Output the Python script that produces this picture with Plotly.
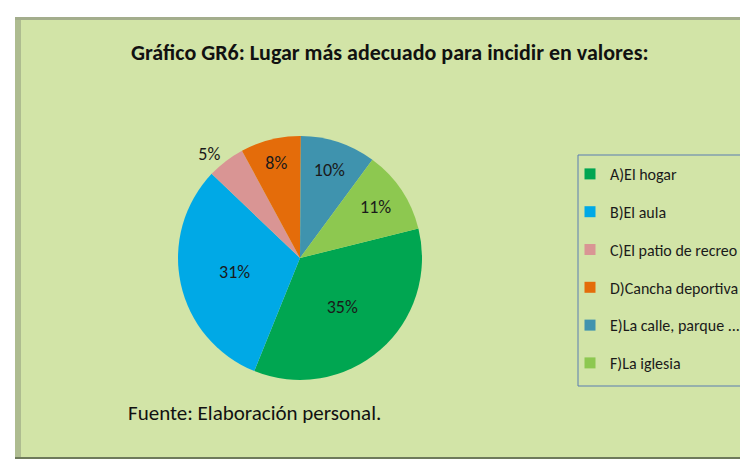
import plotly.graph_objects as go

categories = ["A)El hogar", "B)El aula", "C)El patio de recreo", "D)Cancha deportiva",
              "E)La calle, parque ...", "F)La iglesia"]
values = [35, 31, 5, 8, 10, 11]
colors = ["#00A651", "#00A9E6", "#D99594", "#E46C0A", "#3F93AE", "#8DC850"]
text_positions = ["inside", "inside", "outside", "inside", "inside", "inside"]

W, H = 748, 459
FONT = "Carlito, 'Liberation Sans Narrow', 'Open Sans', sans-serif"


def px(x):
    return x / W


def py(y):
    return 1 - y / H


fig = go.Figure()
fig.add_trace(go.Pie(
    labels=categories,
    values=values,
    sort=False,
    direction="clockwise",
    rotation=76,
    marker=dict(colors=colors, line=dict(color="rgba(0,0,0,0)", width=0)),
    texttemplate="%{percent:.0%}",
    textposition=text_positions,
    insidetextorientation="horizontal",
    textfont=dict(family=FONT, size=18, color="#1A1A1A"),
    outsidetextfont=dict(family=FONT, size=18, color="#1A1A1A"),
    hovertemplate="%{label}: %{value}%<extra></extra>",
    showlegend=False,
    domain=dict(x=[px(292 - 122), px(292 + 122)], y=[py(372), py(128)]),
))

# legend entries (one per category, same colours as the slices)
for cat, col in zip(categories, colors):
    fig.add_trace(go.Scatter(
        x=[None], y=[None], mode="markers", name=cat, legendgroup=cat,
        marker=dict(symbol="square", size=11, color=col),
        showlegend=True, hoverinfo="skip",
    ))

shapes = [
    # white outer strip at top and left
    dict(type="rect", xref="paper", yref="paper", x0=0, x1=1, y0=py(9), y1=1,
         fillcolor="white", line=dict(width=0), layer="below"),
    dict(type="rect", xref="paper", yref="paper", x0=0, x1=px(7), y0=0, y1=1,
         fillcolor="white", line=dict(width=0), layer="below"),
    # bevel at top and left
    dict(type="rect", xref="paper", yref="paper", x0=px(7), x1=1, y0=py(12), y1=py(9),
         fillcolor="#A3AD8C", line=dict(width=0), layer="below"),
    dict(type="rect", xref="paper", yref="paper", x0=px(7), x1=px(13), y0=py(450), y1=py(12),
         fillcolor="#AEBC90", line=dict(width=0), layer="below"),
    # dark bottom band
    dict(type="rect", xref="paper", yref="paper", x0=px(7), x1=1, y0=0, y1=py(449),
         fillcolor="#6E7A5B", line=dict(width=0), layer="below"),
    # legend frame
    dict(type="rect", xref="paper", yref="paper", x0=px(570), x1=px(745), y0=py(378), y1=py(147),
         fillcolor="rgba(0,0,0,0)", line=dict(color="#5B7DB1", width=1), layer="below"),
]

fig.update_layout(
    width=W, height=H,
    margin=dict(l=0, r=0, t=0, b=0),
    paper_bgcolor="#D2E4A7",
    plot_bgcolor="rgba(0,0,0,0)",
    xaxis=dict(visible=False),
    yaxis=dict(visible=False),
    shapes=shapes,
    showlegend=True,
    legend=dict(
        x=px(562), y=py(149), xanchor="left", yanchor="top",
        bgcolor="rgba(0,0,0,0)",
        borderwidth=0,
        font=dict(family=FONT, size=16, color="#1A1A1A"),
        itemwidth=30,
        tracegroupgap=14,
        itemclick=False, itemdoubleclick=False,
    ),
    annotations=[
        dict(text="<b>Gráfico GR6: Lugar más adecuado para incidir en valores:</b>",
             xref="paper", yref="paper", x=px(382), y=py(45), xanchor="center", yanchor="middle",
             showarrow=False, font=dict(family=FONT, size=22, color="#111111")),
        dict(text="Fuente: Elaboración personal.",
             xref="paper", yref="paper", x=px(118), y=py(405), xanchor="left", yanchor="middle",
             showarrow=False, font=dict(family=FONT, size=21, color="#111111")),
    ],
)

fig.write_html("out.html")
